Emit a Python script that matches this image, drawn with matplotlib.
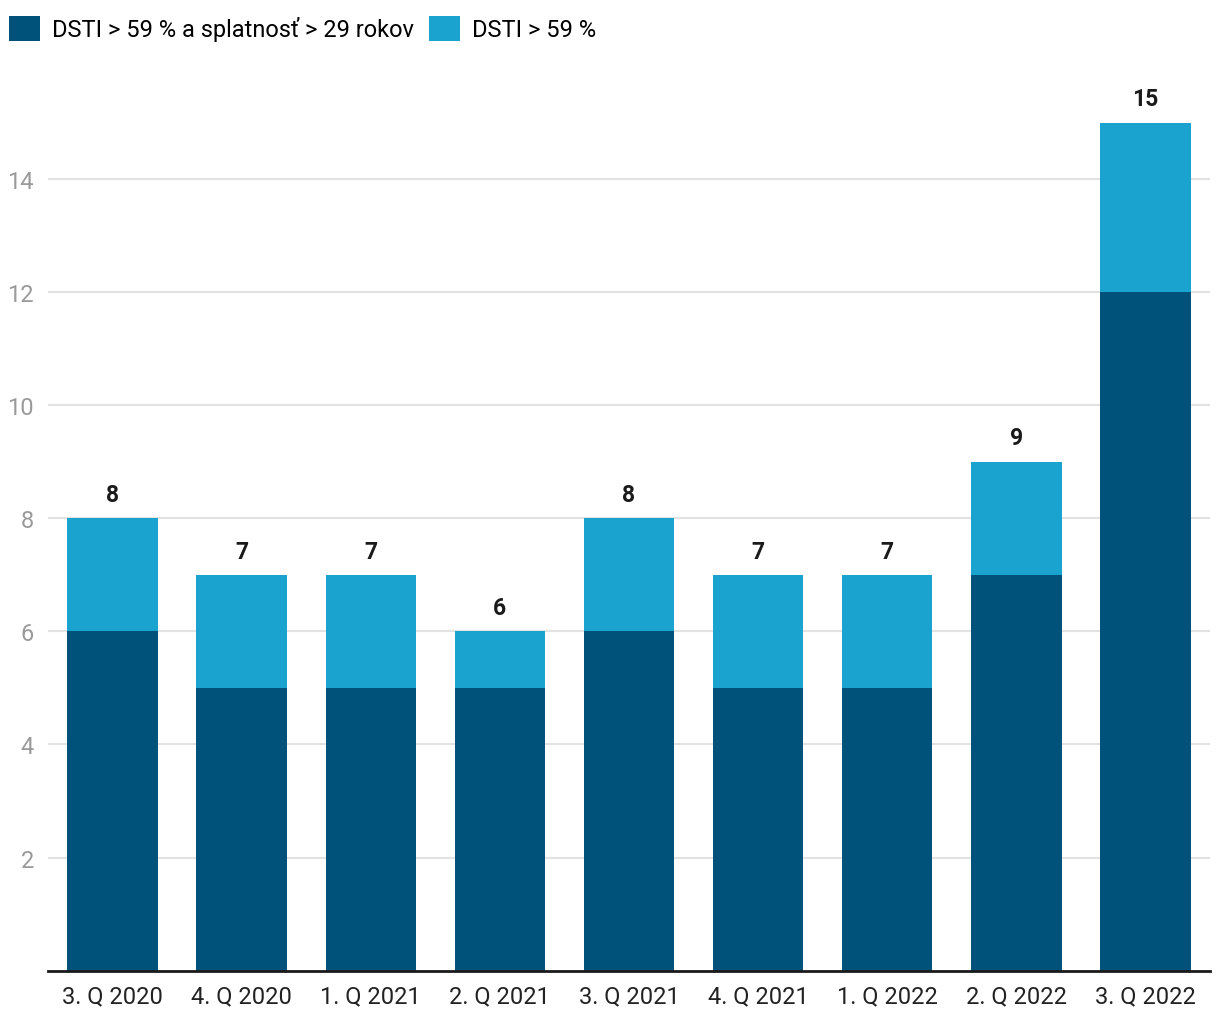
import numpy as np
import matplotlib
matplotlib.use("Agg")
import matplotlib.pyplot as plt

plt.rcParams['font.family'] = ['Roboto', 'DejaVu Sans']

quarters = ["3. Q 2020", "4. Q 2020", "1. Q 2021", "2. Q 2021", "3. Q 2021",
            "4. Q 2021", "1. Q 2022", "2. Q 2022", "3. Q 2022"]
dsti_long = [6, 5, 5, 5, 6, 5, 5, 7, 12]
dsti_total = [8, 7, 7, 6, 8, 7, 7, 9, 15]
dsti_only = [t - b for t, b in zip(dsti_total, dsti_long)]

dark = "#00527A"
light = "#1AA3CF"

fig = plt.figure(figsize=(12.2, 10.2), dpi=100)
ax = fig.add_axes([0.0393, 0.0475, 0.9525, 0.8865])

x = np.arange(len(quarters))
ax.bar(x, dsti_long, width=0.7, color=dark, label="DSTI > 59 % a splatnosť > 29 rokov", zorder=3)
ax.bar(x, dsti_only, width=0.7, bottom=dsti_long, color=light, label="DSTI > 59 %", zorder=3)

for xi, t in zip(x, dsti_total):
    ax.text(xi, t + 0.22, str(t), ha="center", va="bottom", fontsize=16.5,
            fontweight="bold", color="#1a1a1a")

ax.set_xlim(-0.5, len(quarters) - 0.5)
ax.set_ylim(0, 16)
ax.set_yticks([2, 4, 6, 8, 10, 12, 14])
ax.set_xticks(x)
ax.set_xticklabels(quarters)
ax.tick_params(axis="x", length=0, labelsize=17, colors="#222222", pad=10)
ax.tick_params(axis="y", length=0, labelsize=17, colors="#9a9a9a", pad=10)
ax.yaxis.grid(True, color="#e2e2e2", linewidth=1.5, zorder=0)
for s in ["top", "right", "left"]:
    ax.spines[s].set_visible(False)
ax.spines["bottom"].set_color("#1a1a1a")
ax.spines["bottom"].set_linewidth(2)
ax.spines["bottom"].set_zorder(4)

fig.legend(loc="upper left", bbox_to_anchor=(-0.006, 1.0), ncol=2, frameon=False,
           fontsize=17, handlelength=1.3, handleheight=1.3, handletextpad=0.5,
           columnspacing=0.65, borderaxespad=0.3)

fig.savefig("out.png", dpi=100)
